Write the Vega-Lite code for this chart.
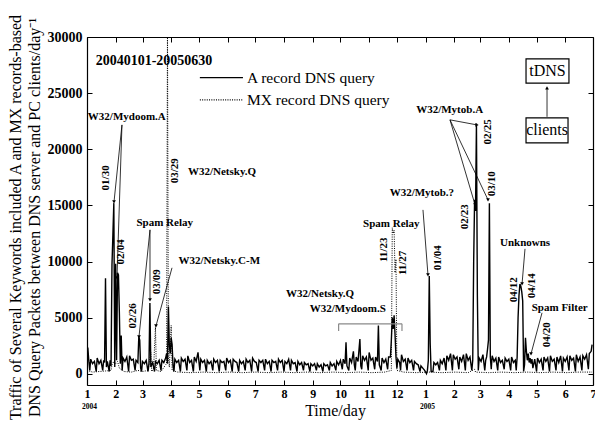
{
  "$schema": "https://vega.github.io/schema/vega-lite/v6.json",
  "width": 506,
  "height": 348,
  "autosize": {"type": "none"},
  "padding": {"left": 87, "top": 37, "right": 2, "bottom": 39},
  "background": "white",
  "config": {
    "font": "Liberation Serif",
    "view": {"stroke": null},
    "axis": {"grid": false, "domainColor": "black", "domainWidth": 1.2, "tickColor": "black", "tickWidth": 1, "tickSize": -5, "labelFont": "Liberation Serif", "labelFontWeight": "bold", "labelColor": "black", "titleFont": "Liberation Serif", "titleFontWeight": "normal", "titleColor": "black"},
    "text": {"font": "Liberation Serif", "color": "black"}
  },
  "datasets": {
    "A": [{"t":0,"a":2100},{"t":1,"a":2200},{"t":2,"a":1100},{"t":3,"a":300},{"t":4,"a":1300},{"t":6,"a":900},{"t":8,"a":1100},{"t":10,"a":200},{"t":11,"a":1400},{"t":13,"a":900},{"t":15,"a":1200},{"t":17,"a":300},{"t":18,"a":1200},{"t":19,"a":1000},{"t":20,"a":8500},{"t":21,"a":600},{"t":22,"a":1100},{"t":24,"a":200},{"t":25,"a":1200},{"t":26,"a":700},{"t":27,"a":9700},{"t":28,"a":12400},{"t":29,"a":15200},{"t":30,"a":600},{"t":31,"a":9800},{"t":32,"a":1200},{"t":33,"a":9000},{"t":34,"a":8800},{"t":35,"a":5400},{"t":36,"a":900},{"t":37,"a":3400},{"t":38,"a":300},{"t":39,"a":1400},{"t":41,"a":1100},{"t":43,"a":1500},{"t":45,"a":200},{"t":46,"a":1600},{"t":48,"a":1200},{"t":50,"a":1300},{"t":52,"a":300},{"t":53,"a":1200},{"t":55,"a":1000},{"t":56,"a":3300},{"t":57,"a":3000},{"t":58,"a":500},{"t":59,"a":200},{"t":60,"a":1100},{"t":62,"a":900},{"t":64,"a":1200},{"t":66,"a":200},{"t":67,"a":900},{"t":68,"a":6300},{"t":69,"a":600},{"t":71,"a":1000},{"t":73,"a":200},{"t":74,"a":1100},{"t":76,"a":900},{"t":78,"a":1200},{"t":80,"a":300},{"t":81,"a":1200},{"t":83,"a":1000},{"t":85,"a":1400},{"t":86,"a":1800},{"t":87,"a":900},{"t":88,"a":6000},{"t":89,"a":2500},{"t":90,"a":1800},{"t":91,"a":3200},{"t":92,"a":2600},{"t":93,"a":700},{"t":94,"a":200},{"t":95,"a":1300},{"t":97,"a":1000},{"t":99,"a":1200},{"t":101,"a":200},{"t":102,"a":1400},{"t":104,"a":1100},{"t":106,"a":1300},{"t":108,"a":300},{"t":109,"a":1600},{"t":111,"a":1000},{"t":113,"a":1200},{"t":115,"a":200},{"t":116,"a":1500},{"t":118,"a":1100},{"t":120,"a":1900},{"t":122,"a":300},{"t":123,"a":1300},{"t":125,"a":1000},{"t":127,"a":1200},{"t":129,"a":200},{"t":130,"a":1200},{"t":132,"a":900},{"t":134,"a":1100},{"t":136,"a":300},{"t":137,"a":1300},{"t":139,"a":1000},{"t":141,"a":1200},{"t":143,"a":200},{"t":144,"a":1200},{"t":146,"a":1000},{"t":148,"a":1100},{"t":150,"a":300},{"t":151,"a":1400},{"t":153,"a":1000},{"t":155,"a":1200},{"t":157,"a":200},{"t":158,"a":1300},{"t":160,"a":1100},{"t":162,"a":1000},{"t":164,"a":200},{"t":165,"a":1200},{"t":167,"a":900},{"t":169,"a":1100},{"t":171,"a":300},{"t":172,"a":1300},{"t":174,"a":1000},{"t":176,"a":1200},{"t":178,"a":200},{"t":179,"a":1400},{"t":181,"a":1100},{"t":183,"a":1000},{"t":185,"a":200},{"t":186,"a":1200},{"t":188,"a":1000},{"t":190,"a":1200},{"t":192,"a":300},{"t":193,"a":1300},{"t":195,"a":900},{"t":197,"a":1100},{"t":199,"a":200},{"t":200,"a":1200},{"t":202,"a":1000},{"t":204,"a":1100},{"t":206,"a":300},{"t":207,"a":1300},{"t":209,"a":1000},{"t":211,"a":1200},{"t":213,"a":200},{"t":214,"a":1100},{"t":216,"a":900},{"t":218,"a":1300},{"t":220,"a":300},{"t":221,"a":1200},{"t":223,"a":900},{"t":225,"a":1000},{"t":227,"a":200},{"t":228,"a":1100},{"t":230,"a":800},{"t":232,"a":1000},{"t":234,"a":300},{"t":235,"a":1000},{"t":237,"a":800},{"t":239,"a":900},{"t":241,"a":200},{"t":242,"a":900},{"t":244,"a":700},{"t":246,"a":900},{"t":248,"a":300},{"t":249,"a":900},{"t":251,"a":600},{"t":253,"a":800},{"t":255,"a":200},{"t":256,"a":900},{"t":258,"a":700},{"t":260,"a":800},{"t":262,"a":300},{"t":263,"a":1000},{"t":265,"a":700},{"t":267,"a":900},{"t":269,"a":300},{"t":270,"a":1100},{"t":272,"a":800},{"t":274,"a":1200},{"t":276,"a":400},{"t":277,"a":1300},{"t":279,"a":900},{"t":280,"a":2800},{"t":281,"a":700},{"t":283,"a":300},{"t":284,"a":1400},{"t":286,"a":1000},{"t":288,"a":2000},{"t":289,"a":800},{"t":290,"a":300},{"t":291,"a":1500},{"t":293,"a":1100},{"t":295,"a":3100},{"t":296,"a":700},{"t":297,"a":400},{"t":298,"a":1600},{"t":300,"a":1200},{"t":302,"a":1500},{"t":304,"a":300},{"t":305,"a":1900},{"t":307,"a":1200},{"t":309,"a":1400},{"t":311,"a":400},{"t":312,"a":1500},{"t":314,"a":1100},{"t":315,"a":4300},{"t":316,"a":800},{"t":318,"a":300},{"t":319,"a":1400},{"t":321,"a":1000},{"t":323,"a":1300},{"t":325,"a":400},{"t":326,"a":1500},{"t":328,"a":1500},{"t":329,"a":3000},{"t":330,"a":5000},{"t":331,"a":4000},{"t":332,"a":5200},{"t":333,"a":3500},{"t":334,"a":1500},{"t":335,"a":500},{"t":336,"a":1300},{"t":338,"a":1000},{"t":339,"a":300},{"t":340,"a":1700},{"t":342,"a":1100},{"t":344,"a":1300},{"t":346,"a":300},{"t":347,"a":1400},{"t":349,"a":1000},{"t":351,"a":1200},{"t":353,"a":300},{"t":354,"a":1100},{"t":356,"a":900},{"t":358,"a":800},{"t":360,"a":200},{"t":361,"a":700},{"t":363,"a":500},{"t":365,"a":300},{"t":367,"a":0},{"t":368,"a":300},{"t":369,"a":1200},{"t":370,"a":8700},{"t":371,"a":2700},{"t":372,"a":200},{"t":374,"a":200},{"t":375,"a":1000},{"t":377,"a":800},{"t":379,"a":1000},{"t":381,"a":300},{"t":382,"a":1200},{"t":384,"a":900},{"t":386,"a":1400},{"t":388,"a":300},{"t":389,"a":1600},{"t":391,"a":1200},{"t":393,"a":1800},{"t":395,"a":300},{"t":396,"a":1700},{"t":398,"a":1300},{"t":400,"a":1500},{"t":402,"a":400},{"t":403,"a":1500},{"t":405,"a":1100},{"t":407,"a":1700},{"t":409,"a":300},{"t":410,"a":1800},{"t":412,"a":1200},{"t":414,"a":1500},{"t":416,"a":300},{"t":417,"a":1200},{"t":418,"a":10000},{"t":419,"a":15500},{"t":420,"a":14500},{"t":421,"a":22300},{"t":422,"a":7000},{"t":423,"a":300},{"t":424,"a":1400},{"t":426,"a":1100},{"t":428,"a":1700},{"t":430,"a":300},{"t":431,"a":1200},{"t":432,"a":1500},{"t":433,"a":2200},{"t":434,"a":3000},{"t":435,"a":15200},{"t":436,"a":1500},{"t":437,"a":400},{"t":438,"a":1600},{"t":440,"a":1100},{"t":442,"a":1400},{"t":444,"a":300},{"t":445,"a":1500},{"t":447,"a":1000},{"t":449,"a":1200},{"t":451,"a":400},{"t":452,"a":1400},{"t":454,"a":1100},{"t":456,"a":1300},{"t":458,"a":300},{"t":459,"a":1500},{"t":461,"a":1000},{"t":463,"a":1200},{"t":464,"a":300},{"t":465,"a":1500},{"t":466,"a":5000},{"t":467,"a":7000},{"t":468,"a":8000},{"t":469,"a":7800},{"t":470,"a":7300},{"t":471,"a":6500},{"t":472,"a":200},{"t":473,"a":800},{"t":474,"a":3200},{"t":475,"a":2000},{"t":476,"a":1200},{"t":477,"a":1800},{"t":478,"a":1000},{"t":479,"a":1400},{"t":480,"a":900},{"t":481,"a":1300},{"t":482,"a":500},{"t":484,"a":1300},{"t":486,"a":200},{"t":487,"a":1400},{"t":489,"a":1000},{"t":491,"a":1300},{"t":493,"a":300},{"t":494,"a":1500},{"t":496,"a":1100},{"t":498,"a":1400},{"t":500,"a":200},{"t":501,"a":1600},{"t":503,"a":1100},{"t":505,"a":1300},{"t":507,"a":300},{"t":508,"a":1500},{"t":510,"a":1000},{"t":512,"a":1600},{"t":514,"a":200},{"t":515,"a":1400},{"t":517,"a":1100},{"t":519,"a":1500},{"t":521,"a":300},{"t":522,"a":1600},{"t":524,"a":1200},{"t":526,"a":1400},{"t":528,"a":200},{"t":529,"a":1700},{"t":531,"a":1100},{"t":533,"a":1500},{"t":535,"a":300},{"t":536,"a":1600},{"t":538,"a":1300},{"t":540,"a":1700},{"t":542,"a":400},{"t":543,"a":1800},{"t":545,"a":2000},{"t":546,"a":2600}],
    "MX": [{"t":0,"m":300},{"t":6,"m":150},{"t":13,"m":200},{"t":20,"m":250},{"t":26,"m":300},{"t":27,"m":800},{"t":29,"m":1100},{"t":31,"m":900},{"t":33,"m":1100},{"t":35,"m":500},{"t":40,"m":200},{"t":48,"m":150},{"t":55,"m":300},{"t":60,"m":200},{"t":66,"m":300},{"t":69,"m":1900},{"t":70,"m":200},{"t":72,"m":500},{"t":74,"m":4200},{"t":75,"m":300},{"t":80,"m":200},{"t":85,"m":800},{"t":86,"m":900},{"t":87,"m":31000},{"t":88,"m":1500},{"t":89,"m":600},{"t":91,"m":4300},{"t":92,"m":300},{"t":98,"m":150},{"t":112,"m":100},{"t":126,"m":150},{"t":140,"m":100},{"t":154,"m":150},{"t":168,"m":100},{"t":182,"m":150},{"t":196,"m":100},{"t":210,"m":150},{"t":224,"m":100},{"t":238,"m":150},{"t":252,"m":100},{"t":266,"m":150},{"t":280,"m":100},{"t":294,"m":150},{"t":308,"m":100},{"t":322,"m":150},{"t":329,"m":300},{"t":330,"m":13000},{"t":331,"m":12500},{"t":332,"m":12800},{"t":333,"m":9000},{"t":334,"m":10200},{"t":335,"m":300},{"t":342,"m":150},{"t":356,"m":100},{"t":370,"m":150},{"t":384,"m":100},{"t":398,"m":150},{"t":412,"m":100},{"t":419,"m":400},{"t":420,"m":150},{"t":434,"m":100},{"t":448,"m":150},{"t":462,"m":100},{"t":476,"m":150},{"t":490,"m":100},{"t":504,"m":150},{"t":518,"m":100},{"t":532,"m":150},{"t":546,"m":150}],
    "legend": [{"t":122,"t2":168.6,"v":26390,"label":"A record DNS query","series":"A"},{"t":122,"t2":168.6,"v":24400,"label":"MX record DNS query","series":"MX"}],
    "hlabels": [{"t":43,"v":22890,"text":"W32/Mydoom.A"},{"t":84,"v":13450,"text":"Spam Relay"},{"t":143,"v":10060,"text":"W32/Netsky.C-M"},{"t":146,"v":17990,"text":"W32/Netsky.Q"},{"t":252,"v":7120,"text":"W32/Netsky.Q"},{"t":282,"v":5790,"text":"W32/Mydoom.S"},{"t":329,"v":13360,"text":"Spam Relay"},{"t":362,"v":16120,"text":"W32/Mytob.?"},{"t":392,"v":23510,"text":"W32/Mytob.A"},{"t":473.5,"v":11670,"text":"Unknowns"},{"t":511,"v":5880,"text":"Spam Filter"}],
    "vlabels": [{"t":20.5,"v":17450,"text":"01/30"},{"t":36.8,"v":10860,"text":"02/04"},{"t":49.7,"v":5160,"text":"02/26"},{"t":75.7,"v":8190,"text":"03/09"},{"t":95.1,"v":18080,"text":"03/29"},{"t":321,"v":11040,"text":"11/23"},{"t":341.6,"v":9880,"text":"11/27"},{"t":379.5,"v":10330,"text":"01/04"},{"t":433.5,"v":21550,"text":"02/25"},{"t":408.6,"v":13980,"text":"02/23"},{"t":437.8,"v":16920,"text":"03/10"},{"t":461.6,"v":7480,"text":"04/12"},{"t":481,"v":7840,"text":"04/14"},{"t":497.3,"v":3470,"text":"04/20"}],
    "arrows": [{"t":37.8,"v":22170,"t2":29.2,"v2":15310,"dir":"down"},{"t":37.8,"v":22170,"t2":32.4,"v2":8550,"dir":"down"},{"t":68.1,"v":12820,"t2":56.2,"v2":3290,"dir":"down"},{"t":68.1,"v":12820,"t2":68.1,"v2":6590,"dir":"down"},{"t":91.9,"v":9440,"t2":74.6,"v2":4270,"dir":"down"},{"t":363.2,"v":14600,"t2":368.6,"v2":8810,"dir":"down"},{"t":392.4,"v":22620,"t2":421.6,"v2":22170,"dir":"right"},{"t":392.4,"v":22620,"t2":419.5,"v2":15050,"dir":"down"},{"t":392.4,"v":22620,"t2":433.5,"v2":15500,"dir":"down"},{"t":473.5,"v":11130,"t2":470.3,"v2":8010,"dir":"down"},{"t":491.9,"v":5430,"t2":480,"v2":1780,"dir":"down"},{"t":497.3,"v":22890,"t2":497.3,"v2":25470,"dir":"up"}],
    "bracket": [{"t":272,"v":4450,"t2":340.5,"v2":4450},{"t":272,"v":4450,"t2":272,"v2":3800},{"t":340.5,"v":4450,"t2":340.5,"v2":3800}],
    "boxes": [{"t":474.6,"t2":521,"v":25900,"v2":28050,"cx":497.8,"cy":26975,"text":"tDNS"},{"t":474.6,"t2":520,"v":20570,"v2":22800,"cx":497.3,"cy":21685,"text":"clients"}],
    "years": [{"t":2.7,"v":-2950,"text":"2004"},{"t":368,"v":-2950,"text":"2005"}],
    "title": [{"t":72.4,"v":27870,"text":"20040101-20050630"}]
  },
  "layer": [
    {
      "data": {"name": "A"},
      "mark": {"type": "line", "color": "black", "strokeWidth": 1.4, "clip": true},
      "encoding": {
        "x": {"field": "t", "type": "quantitative", "scale": {"domain": [0, 547], "nice": false, "zero": false},
          "axis": {"orient": "bottom", "values": [0,31,60,91,121,152,182,213,244,274,305,335,366,397,425,456,486,517,547],
            "labelExpr": "(indexof([0,31,60,91,121,152,182,213,244,274,305,335,366,397,425,456,486,517,547], datum.value) % 12) + 1",
            "labelFontSize": 12, "labelFontWeight": "bold", "labelPadding": 8, "labelFlush": false,
            "title": "Time/day", "titleFontSize": 16, "titleX": 248, "titleY": 17, "titleAlign": "center", "titleBaseline": "top"}},
        "y": {"field": "a", "type": "quantitative", "scale": {"domain": [-1000, 30000], "nice": false, "zero": false},
          "axis": {"orient": "left", "values": [0,5000,10000,15000,20000,25000,30000], "format": "d", "labelFontSize": 14, "labelFontWeight": "bold", "labelPadding": 10, "labelFlush": false,
            "title": ["Traffic of Several Keywords included A and MX records-based", "DNS Query Packets between DNS server and PC clients/day⁻¹"],
            "titleFontSize": 16, "titleLineHeight": 19, "titleAngle": -90, "titleX": -80, "titleY": 180, "titleAlign": "center", "titleBaseline": "top"}}
      }
    },
    {
      "data": {"name": "MX"},
      "mark": {"type": "line", "color": "black", "strokeWidth": 1, "strokeDash": [1, 1.3], "clip": true},
      "encoding": {
        "x": {"field": "t", "type": "quantitative", "axis": {"orient": "top", "values": [0,31,60,91,121,152,182,213,244,274,305,335,366,397,425,456,486,517,547], "labels": false, "title": null}},
        "y": {"field": "m", "type": "quantitative", "axis": {"orient": "right", "values": [0,5000,10000,15000,20000,25000,30000], "labels": false, "title": null}}
      }
    },
    {
      "data": {"name": "legend"},
      "mark": {"type": "rule", "color": "black", "strokeWidth": 1.3},
      "encoding": {
        "x": {"field": "t", "type": "quantitative", "axis": null},
        "x2": {"field": "t2"},
        "y": {"field": "v", "type": "quantitative", "axis": null},
        "strokeDash": {"field": "series", "type": "nominal", "scale": {"domain": ["A", "MX"], "range": [[1, 0], [1, 1.3]]}, "legend": null}
      }
    },
    {
      "data": {"name": "legend"},
      "mark": {"type": "text", "align": "left", "baseline": "middle", "fontSize": 15.5, "dx": 4},
      "encoding": {
        "x": {"field": "t2", "type": "quantitative", "axis": null},
        "y": {"field": "v", "type": "quantitative", "axis": null},
        "text": {"field": "label"}
      }
    },
    {
      "data": {"name": "hlabels"},
      "mark": {"type": "text", "align": "center", "baseline": "middle", "fontSize": 11, "fontWeight": "bold"},
      "encoding": {
        "x": {"field": "t", "type": "quantitative", "axis": null},
        "y": {"field": "v", "type": "quantitative", "axis": null},
        "text": {"field": "text"}
      }
    },
    {
      "data": {"name": "vlabels"},
      "mark": {"type": "text", "align": "center", "baseline": "middle", "fontSize": 11, "fontWeight": "bold", "angle": 270},
      "encoding": {
        "x": {"field": "t", "type": "quantitative", "axis": null},
        "y": {"field": "v", "type": "quantitative", "axis": null},
        "text": {"field": "text"}
      }
    },
    {
      "data": {"name": "arrows"},
      "mark": {"type": "rule", "color": "black", "strokeWidth": 0.8},
      "encoding": {
        "x": {"field": "t", "type": "quantitative", "axis": null},
        "y": {"field": "v", "type": "quantitative", "axis": null},
        "x2": {"field": "t2"},
        "y2": {"field": "v2"}
      }
    },
    {
      "data": {"name": "arrows"},
      "mark": {"type": "point", "filled": true, "color": "black", "size": 14, "opacity": 1},
      "encoding": {
        "x": {"field": "t2", "type": "quantitative", "axis": null},
        "y": {"field": "v2", "type": "quantitative", "axis": null},
        "shape": {"field": "dir", "type": "nominal", "scale": {"domain": ["down", "right", "up"], "range": ["triangle-down", "triangle-right", "triangle-up"]}, "legend": null}
      }
    },
    {
      "data": {"name": "bracket"},
      "mark": {"type": "rule", "color": "#8a8a8a", "strokeWidth": 1.2},
      "encoding": {
        "x": {"field": "t", "type": "quantitative", "axis": null},
        "y": {"field": "v", "type": "quantitative", "axis": null},
        "x2": {"field": "t2"},
        "y2": {"field": "v2"}
      }
    },
    {
      "data": {"name": "boxes"},
      "mark": {"type": "rect", "fill": "white", "stroke": "black", "strokeWidth": 1.2},
      "encoding": {
        "x": {"field": "t", "type": "quantitative", "axis": null},
        "x2": {"field": "t2"},
        "y": {"field": "v", "type": "quantitative", "axis": null},
        "y2": {"field": "v2"}
      }
    },
    {
      "data": {"name": "boxes"},
      "mark": {"type": "text", "align": "center", "baseline": "middle", "fontSize": 16},
      "encoding": {
        "x": {"field": "cx", "type": "quantitative", "axis": null},
        "y": {"field": "cy", "type": "quantitative", "axis": null},
        "text": {"field": "text"}
      }
    },
    {
      "data": {"name": "years"},
      "mark": {"type": "text", "align": "center", "baseline": "middle", "fontSize": 7.5, "fontWeight": "bold"},
      "encoding": {
        "x": {"field": "t", "type": "quantitative", "axis": null},
        "y": {"field": "v", "type": "quantitative", "axis": null},
        "text": {"field": "text"}
      }
    },
    {
      "data": {"name": "title"},
      "mark": {"type": "text", "align": "center", "baseline": "middle", "fontSize": 14, "fontWeight": "bold"},
      "encoding": {
        "x": {"field": "t", "type": "quantitative", "axis": null},
        "y": {"field": "v", "type": "quantitative", "axis": null},
        "text": {"field": "text"}
      }
    }
  ],
  "resolve": {"axis": {"x": "independent", "y": "independent"}}
}
